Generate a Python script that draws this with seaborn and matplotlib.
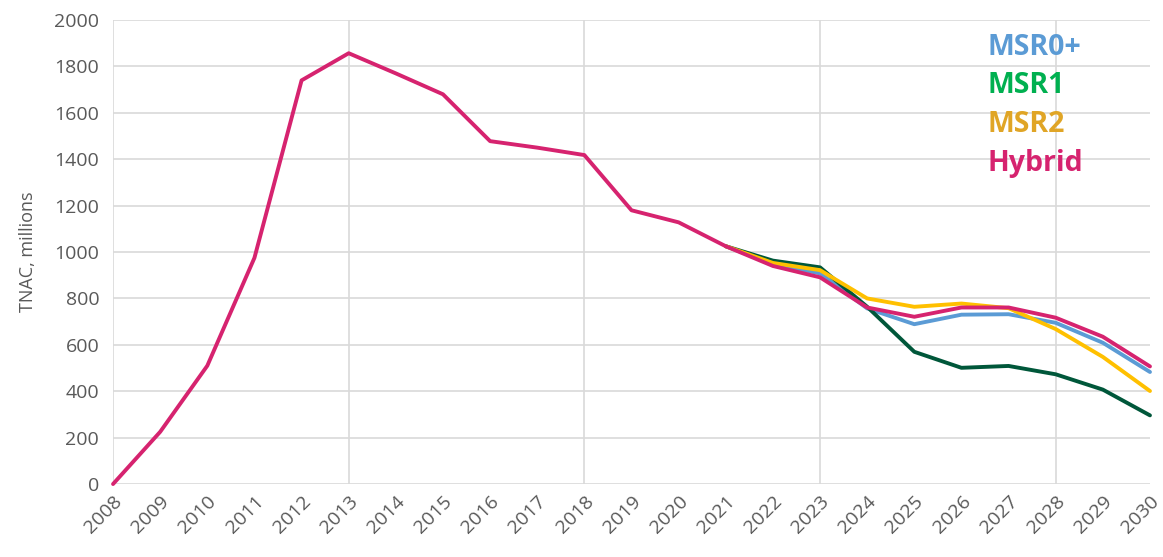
import matplotlib
matplotlib.use("Agg")
import matplotlib.pyplot as plt
from matplotlib.ticker import FixedLocator, MultipleLocator
import seaborn as sns
import pandas as pd

# Historical TNAC (shared by all scenarios), 2008-2021
hist_years = list(range(2008, 2022))
hist_tnac = [0, 225, 510, 975, 1740, 1857, 1770, 1680, 1478, 1450, 1418, 1180, 1128, 1025]

# Scenario projections, 2022-2030
proj_years = list(range(2022, 2031))
msr0_plus = [948, 908, 757, 689, 730, 732, 695, 609, 483]
msr1 = [963, 934, 764, 570, 501, 509, 473, 407, 296]
msr2 = [953, 922, 800, 764, 778, 758, 668, 548, 401]
hybrid = [940, 891, 761, 721, 761, 761, 717, 635, 507]

scenario_names = ["MSR0+", "MSR1", "MSR2", "Hybrid"]
line_colors = {"MSR0+": "#5B9BD5", "MSR1": "#00573A", "MSR2": "#FFC000", "Hybrid": "#D6236F"}
label_colors = {"MSR0+": "#5B9BD5", "MSR1": "#00B050", "MSR2": "#E0A526", "Hybrid": "#D6236F"}

rows = []
series = {"MSR0+": msr0_plus, "MSR1": msr1, "MSR2": msr2, "Hybrid": hybrid}
for name in scenario_names:
    if name == "Hybrid":
        yrs = hist_years + proj_years
        vals = hist_tnac + series[name]
    else:
        yrs = hist_years[-1:] + proj_years
        vals = hist_tnac[-1:] + series[name]
    for y, v in zip(yrs, vals):
        rows.append({"year": y, "tnac": v, "scenario": name})
df = pd.DataFrame(rows)

sns.set_theme(style="white")
plt.rcParams["font.family"] = ["Open Sans", "DejaVu Sans"]

fig = plt.figure(figsize=(11.63, 5.57), dpi=100)
ax = fig.add_axes([0.0972, 0.131, 0.8916, 0.833])

sns.lineplot(data=df, x="year", y="tnac", hue="scenario", hue_order=scenario_names,
             palette=line_colors, linewidth=2.8, legend=False, ax=ax, clip_on=False)

ax.set_xlim(2008, 2030)
ax.set_ylim(0, 2000)
ax.xaxis.remove_overlapping_locs = False
ax.xaxis.set_major_locator(MultipleLocator(1))
ax.xaxis.set_minor_locator(FixedLocator([2008, 2013, 2018, 2023, 2028]))
ax.yaxis.set_major_locator(MultipleLocator(200))

ax.grid(axis="y", which="major", color="#D9D9D9", linewidth=1.2)
ax.grid(axis="x", which="minor", color="#D9D9D9", linewidth=1.2)
ax.grid(axis="x", which="major", visible=False)
ax.set_axisbelow(True)
for s in ax.spines.values():
    s.set_visible(False)

ax.tick_params(axis="both", which="both", length=0, colors="#595959", labelsize=14)
ax.tick_params(axis="y", pad=10)
ax.tick_params(axis="x", pad=6)
plt.setp(ax.get_xticklabels(), rotation=45, ha="right", rotation_mode="anchor")

ax.set_xlabel("")
ax.set_ylabel("TNAC, millions", fontsize=13, color="#595959", labelpad=12)

# Scenario labels stacked at top right
label_x = (988 - 113) / (1150 - 113)
label_y = [0.94, 0.86, 0.775, 0.69]
for name, yy in zip(scenario_names, label_y):
    ax.text(label_x, yy, name, transform=ax.transAxes, fontsize=20.5, fontweight="bold",
            color=label_colors[name], ha="left", va="center")

fig.savefig("out.png", dpi=100)
